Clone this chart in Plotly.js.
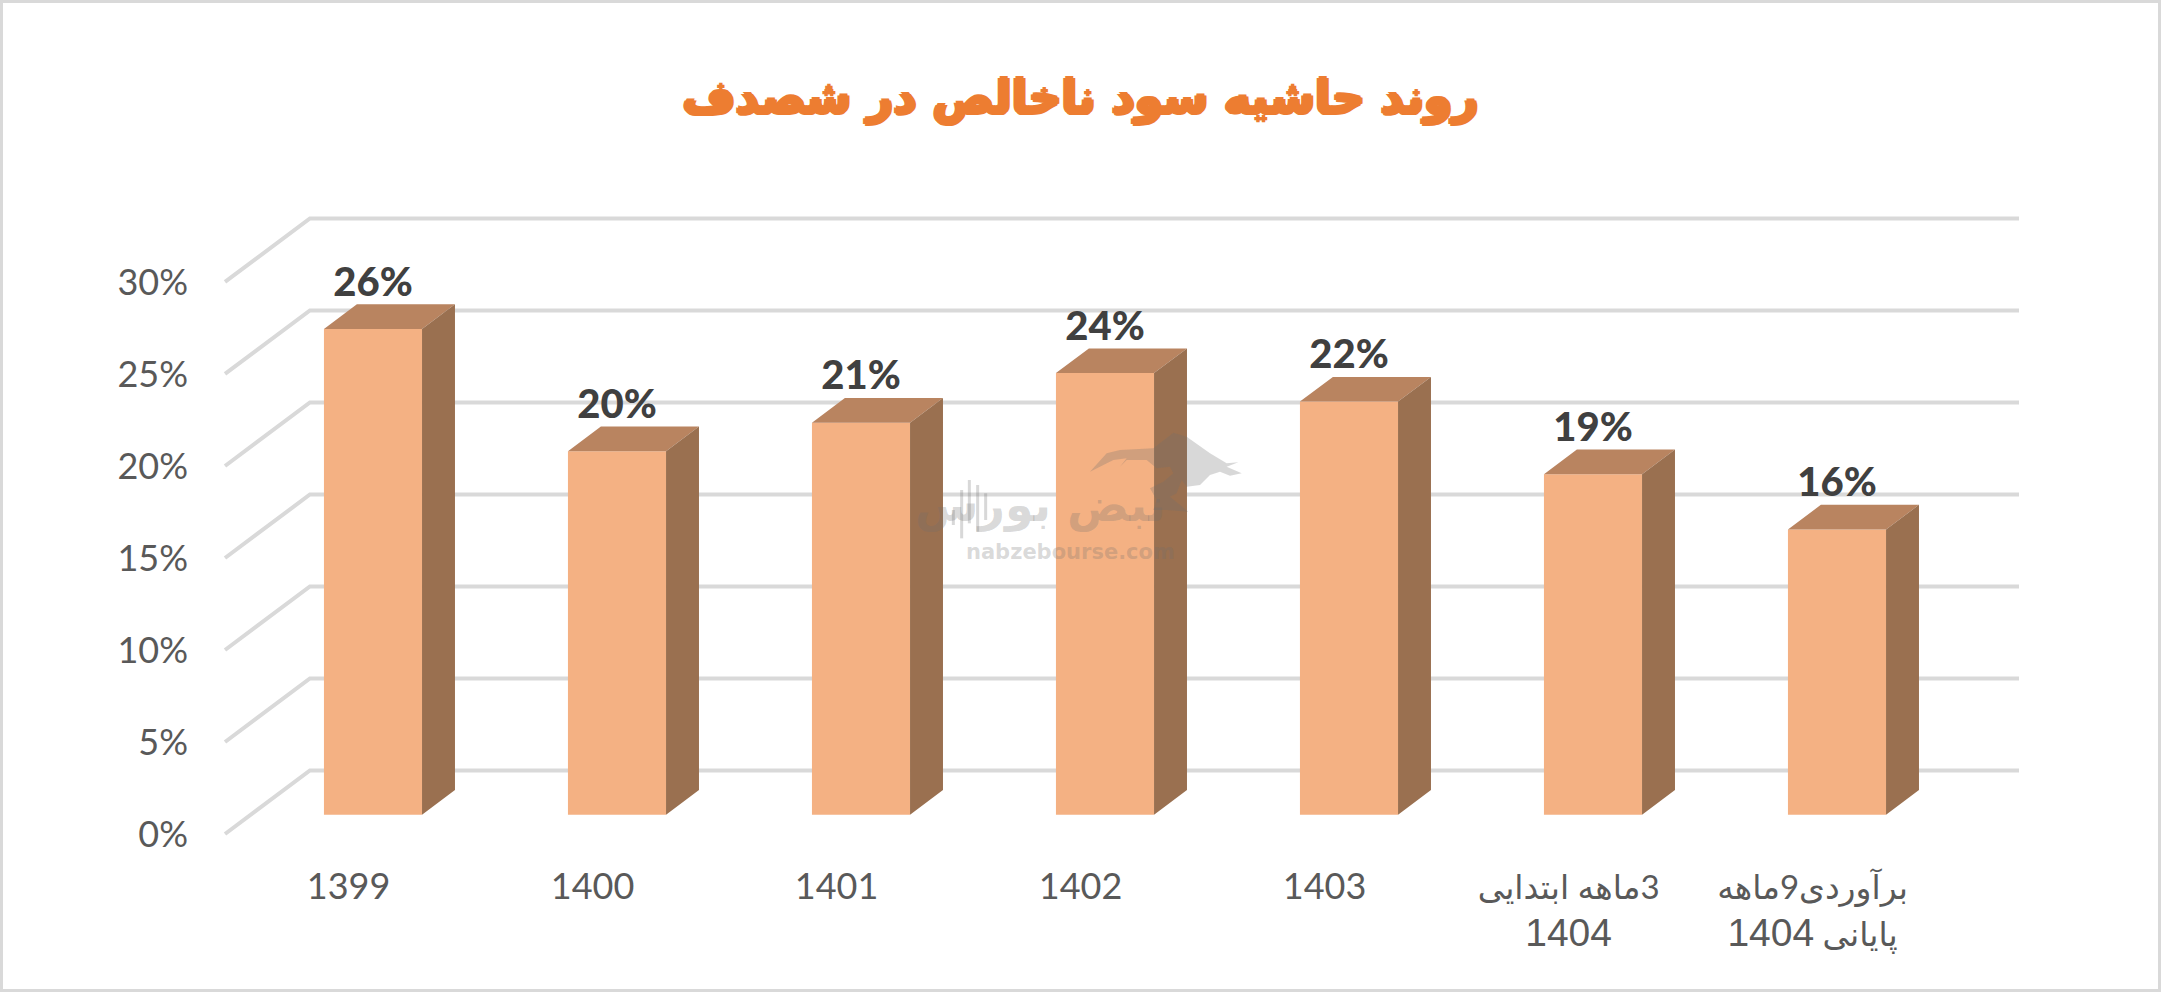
<!DOCTYPE html>
<html>
<head>
<meta charset="utf-8">
<script src="https://cdn.plot.ly/plotly-3.0.1.min.js"></script>
<style>html,body{margin:0;padding:0;background:#fff;overflow:hidden}</style>
</head>
<body>
<div id="chart" style="width:2161px;height:992px"></div>
<script>
const chartTitle = "روند حاشیه سود ناخالص در شصدف";
const faLine = s => "<span style='font-size:33px'>" + s + "</span>";
const latin = s => "<span style='font-family:Liberation Sans;font-size:39px'>" + s + "</span>";
const categories = ["1399", "1400", "1401", "1402", "1403",
  faLine("\u200f3ماهه ابتدایی") + "<br>" + latin("1404"),
  faLine("برآوردی9ماهه") + "<br>" + faLine("\u200fپایانی ") + latin("1404")];
const values = [26.4, 19.75, 21.3, 24.0, 22.45, 18.5, 15.5];
const valueLabels = ["26%", "20%", "21%", "24%", "22%", "19%", "16%"];
const gridTicks = [0, 5, 10, 15, 20, 25, 30];
const gridTickLabels = ["0%", "5%", "10%", "15%", "20%", "25%", "30%"];

// page geometry of the plot area
const W = 2161, H = 992, L = 215, R = 2030, T = 201, B = 844;
const xMin = -0.6475, xMax = 6.791, yMin = -0.543, yMax = 34.4;
// pseudo-3D offsets in axis units
const wallDX = 0.348, wallDY = 3.45, wallEnd = 6.746;
const barLift = 1.05, barWidth = 0.402, barDX = 0.135, barDY = 1.34;
const labelGap = 2.35, tickShift = -0.1;

const idx = categories.map((_, i) => i);
const topX = [], topY = [], sideX = [], sideY = [];
idx.forEach(i => {
  const l = i - barWidth / 2, r = i + barWidth / 2, t = values[i] + barLift, b = barLift;
  topX.push(l, r, r + barDX, l + barDX, l, null);
  topY.push(t, t, t + barDY, t + barDY, t, null);
  sideX.push(r, r + barDX, r + barDX, r, r, null);
  sideY.push(b, b + barDY, t + barDY, t, b, null);
});

const traces = [
  {type: "bar", x: idx, y: values, base: barLift, width: barWidth,
   marker: {color: "#F4B183", line: {width: 0}}, hoverinfo: "skip", showlegend: false},
  {type: "scatter", mode: "lines", x: topX, y: topY, fill: "toself", fillcolor: "#B98460",
   line: {width: 0, color: "#B98460"}, hoverinfo: "skip", showlegend: false},
  {type: "scatter", mode: "lines", x: sideX, y: sideY, fill: "toself", fillcolor: "#9A7050",
   line: {width: 0, color: "#9A7050"}, hoverinfo: "skip", showlegend: false},
  {type: "scatter", mode: "text", x: idx, y: values.map(v => v + barLift + labelGap),
   text: valueLabels, textposition: "middle center", cliponaxis: false,
   textfont: {family: "Lato, 'DejaVu Sans'", size: 40, color: "#404040", weight: 900},
   hoverinfo: "skip", showlegend: false}
];

const px = x => (x - L) / (R - L);
const py = y => (B - y) / (B - T);
const wm = "rgba(110,110,110,0.27)";

const gridShapes = gridTicks.map(v => ({
  type: "path", layer: "below", xref: "x", yref: "y",
  path: `M ${xMin + 0.041} ${v} L ${xMin + 0.041 + wallDX} ${v + wallDY} L ${wallEnd} ${v + wallDY}`,
  line: {color: "#D9D9D9", width: 4}
}));

// watermark decoration (page pixels)
const bull = [[630,185],[680,130],[720,120],[820,115],[880,68],[920,80],[990,130],[1040,160],[1075,157],[1040,170],[1085,190],[1050,197],[1020,185],[990,195],[960,225],[920,230],[905,210],[890,250],[870,260],[925,305],[860,300],[820,300],[830,270],[810,235],[850,215],[880,190],[870,170],[830,175],[800,150],[740,150],[720,170],[740,145],[700,150]];
const bullPath = "M " + bull.map(p => `${px(880 + p[0] / 3).toFixed(5)} ${py(410 + p[1] / 3).toFixed(5)}`).join(" L ") + " Z";
const candles = [[220,300,345],[245,240,385],[268,210,340],[293,225,365],[317,250,330]];
const wmShapes = [{type: "path", layer: "above", xref: "paper", yref: "paper", path: bullPath,
  fillcolor: wm, line: {width: 0}}].concat(candles.map(c => ({
  type: "line", layer: "above", xref: "paper", yref: "paper",
  x0: px(880 + c[0] / 3), x1: px(880 + c[0] / 3), y0: py(410 + c[1] / 3), y1: py(410 + c[2] / 3),
  line: {color: wm, width: 3}
})));

const frame = {type: "rect", layer: "above", xref: "paper", yref: "paper",
  x0: px(1.5), x1: px(W - 1.5), y0: py(H - 1.5), y1: py(1.5),
  line: {color: "#D9D9D9", width: 3}, fillcolor: "rgba(0,0,0,0)"};

const layout = {
  width: W, height: H, paper_bgcolor: "#fff", plot_bgcolor: "rgba(0,0,0,0)",
  margin: {l: L, r: W - R, t: T, b: H - B, pad: 0}, showlegend: false, barmode: "overlay",
  title: {text: "<b>" + chartTitle + "</b>", x: 0.5, xref: "container", xanchor: "center",
    y: 0.902, yref: "container", yanchor: "middle",
    font: {family: "'DejaVu Sans'", size: 45.5, color: "#ED7D31", weight: 700,
      shadow: "2px 0 0 #ED7D31, -2px 0 0 #ED7D31, 0 2px 0 #ED7D31, 0 -2px 0 #ED7D31"}},
  xaxis: {range: [xMin, xMax], tickmode: "array", tickvals: idx.map(i => i + tickShift), ticktext: categories,
    showgrid: false, zeroline: false, showline: false, ticks: "", ticklabelstandoff: 18, automargin: false,
    tickfont: {family: "Lato, 'DejaVu Sans'", size: 36, color: "#595959"}, tickangle: 0},
  yaxis: {range: [yMin, yMax], tickmode: "array", tickvals: gridTicks, ticktext: gridTickLabels,
    showgrid: false, zeroline: false, showline: false, ticks: "", ticklabelstandoff: 26, automargin: false,
    tickfont: {family: "Lato, 'DejaVu Sans'", size: 36, color: "#595959"}},
  shapes: gridShapes.concat(wmShapes, [frame]),
  annotations: [
    {text: "<b>nabzebourse.com</b>", xref: "paper", yref: "paper", x: px(1070), y: py(552), showarrow: false,
     xanchor: "center", yanchor: "middle", font: {family: "'DejaVu Sans'", size: 21, color: wm}},
    {text: "<b>نبض بورس</b>", xref: "paper", yref: "paper", x: px(1040), y: py(505), showarrow: false,
     xanchor: "center", yanchor: "middle", font: {family: "'DejaVu Sans'", size: 46, color: wm}}
  ]
};

Plotly.newPlot("chart", traces, layout, {displayModeBar: false, staticPlot: true});
</script>
</body>
</html>
